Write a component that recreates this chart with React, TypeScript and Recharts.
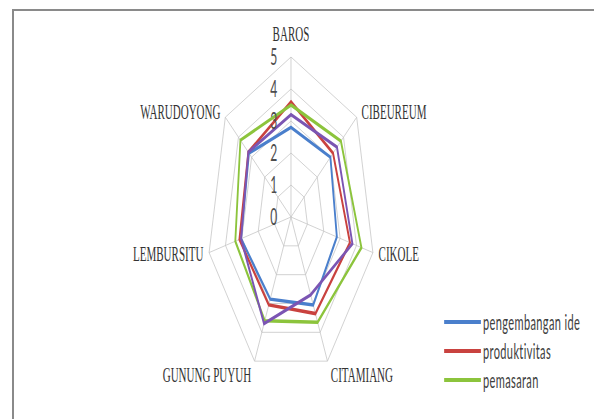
import { RadarChart, Radar, PolarGrid, PolarAngleAxis, PolarRadiusAxis, Legend } from "recharts";

// kecamatan on the spokes, clockwise from the top
const kecamatan = ["BAROS", "CIBEUREUM", "CIKOLE", "CITAMIANG", "GUNUNG PUYUH", "LEMBURSITU", "WARUDOYONG"];

const pengembanganIde = [2.8, 3.0, 2.8, 3.05, 2.85, 3.05, 3.2];
const produktivitas = [3.6, 3.2, 3.6, 3.35, 3.05, 3.15, 3.25];
const pemasaran = [3.5, 3.8, 4.3, 3.65, 3.6, 3.4, 3.85];
const seriKeempat = [3.2, 3.5, 3.75, 2.7, 3.7, 3.05, 3.25];

const radiusTicks = [0, 1, 2, 3, 4, 5];
const legendOrder = ["pengembangan ide", "produktivitas", "pemasaran"];

const data = kecamatan.map((name, i) => ({
  name,
  pengembanganIde: pengembanganIde[i],
  produktivitas: produktivitas[i],
  pemasaran: pemasaran[i],
  seriKeempat: seriKeempat[i],
}));

// the whole chart is squeezed horizontally
const SX = 0.525;
const W = 594;
const H = 419;
const CHART_W = Math.round(W / SX);
const CX = 291 / SX;
const CY = 217;
const R = 160;

const LINE_W = 3.5;

function AngleTick(props: any) {
  const { x, y, payload } = props;
  const ux = (x - CX) / (R + 8);
  const uy = (y - CY) / (R + 8);
  const anchor = Math.abs(ux) < 0.1 ? "middle" : ux > 0 ? "start" : "end";
  const shift = uy < -0.9 ? -15 : uy > 0.8 ? 7 : 0;
  const gap = anchor === "start" ? 3 : anchor === "end" ? -3 : 0;
  return (
    <text
      x={x + gap}
      y={y + shift}
      textAnchor={anchor}
      dominantBaseline="central"
      fontFamily="'Liberation Serif', serif"
      fontSize={21}
      fill="#333"
    >
      {payload.value}
    </text>
  );
}

function RadiusTick(props: any) {
  const { x, y, payload } = props;
  return (
    <text
      x={x - 26}
      y={y - 1}
      textAnchor="end"
      dominantBaseline="central"
      fontFamily="Lato, sans-serif"
      fontSize={23}
      fill="#4d4d4d"
    >
      {payload.value}
    </text>
  );
}

function LegendList(props: any) {
  const items = (props.payload || [])
    .filter((p: any) => p.type !== "none")
    .sort((a: any, b: any) => legendOrder.indexOf(a.value) - legendOrder.indexOf(b.value));
  return (
    <div style={{ fontFamily: "Lato, sans-serif", fontSize: 21, color: "#404040" }}>
      {items.map((p: any) => (
        <div key={p.value} style={{ display: "flex", alignItems: "center", height: 29 }}>
          <span style={{ display: "inline-block", width: 70, height: 4, background: p.color, marginRight: 4 }} />
          <span style={{ letterSpacing: 0.7, whiteSpace: "nowrap" }}>{p.value}</span>
        </div>
      ))}
    </div>
  );
}

export default function App() {
  return (
    <div style={{ position: "absolute", left: 0, top: 0, width: W, height: H, overflow: "hidden", background: "#fff" }}>
      <div
        style={{
          position: "absolute",
          left: 12,
          top: 9,
          width: W,
          height: H,
          borderLeft: "2px solid #8a8a8a",
          borderTop: "2px solid #8a8a8a",
        }}
      />
      <div
        style={{
          position: "absolute",
          left: 0,
          top: 0,
          width: CHART_W,
          height: H,
          transform: `scaleX(${SX})`,
          transformOrigin: "0 0",
        }}
      >
        <RadarChart width={CHART_W} height={H} data={data} cx={CX} cy={CY} outerRadius={R} margin={{ top: 0, right: 0, bottom: 0, left: 0 }}>
          <PolarGrid gridType="polygon" stroke="#c4c4c4" vectorEffect="non-scaling-stroke" />
          <PolarAngleAxis dataKey="name" tick={AngleTick} tickLine={false} axisLine={false} />
          <PolarRadiusAxis
            angle={90}
            domain={[0, 5]}
            ticks={radiusTicks as any}
            tick={RadiusTick}
            axisLine={false}
            tickLine={false}
          />
          <Radar name="pengembangan ide" dataKey="pengembanganIde" stroke="#4a7fcc" strokeWidth={LINE_W} fill="none" fillOpacity={0} vectorEffect="non-scaling-stroke" isAnimationActive={false} />
          <Radar name="produktivitas" dataKey="produktivitas" stroke="#c9423f" strokeWidth={LINE_W} fill="none" fillOpacity={0} vectorEffect="non-scaling-stroke" isAnimationActive={false} />
          <Radar name="pemasaran" dataKey="pemasaran" stroke="#8cc43c" strokeWidth={LINE_W} fill="none" fillOpacity={0} vectorEffect="non-scaling-stroke" isAnimationActive={false} />
          <Radar name="seri 4" dataKey="seriKeempat" legendType="none" stroke="#7b55b3" strokeWidth={LINE_W} fill="none" fillOpacity={0} vectorEffect="non-scaling-stroke" isAnimationActive={false} />
          <Legend
            layout="vertical"
            content={LegendList}
            wrapperStyle={{ position: "absolute", left: 846, top: 307, width: "auto", right: "auto", bottom: "auto" }}
          />
        </RadarChart>
      </div>
    </div>
  );
}
